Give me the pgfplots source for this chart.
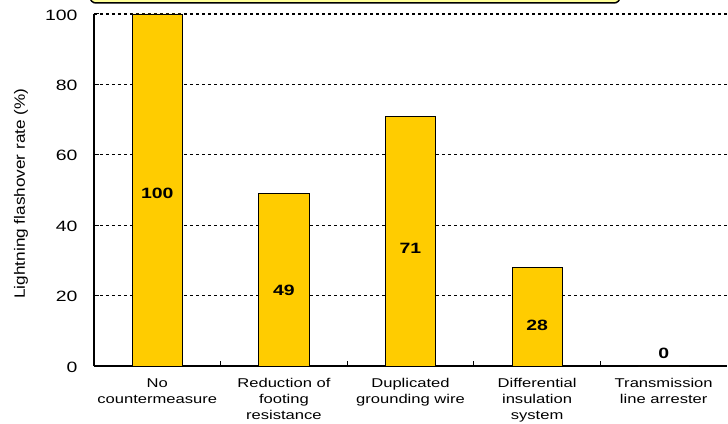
\documentclass[border=0pt]{standalone}
\usepackage{fontspec}
\setmainfont{Liberation Sans}
\newfontfamily\wide[FakeStretch=1.3]{Liberation Sans}
\usepackage{pgfplots}
\pgfplotsset{compat=1.18}
\definecolor{baryellow}{HTML}{FFCC00}
\definecolor{boxyellow}{HTML}{FFFF99}
\begin{document}
\begin{tikzpicture}
\begin{axis}[
  at={(0,0)}, anchor=south west,
  scale only axis, width=633bp, height=352bp,
  xmin=-0.5, xmax=4.5, ymin=0, ymax=100,
  axis x line*=bottom, axis y line*=left,
  axis line style={line width=1.3bp, black, -},
  /pgf/number format/assume math mode=true,
  ytick={0,20,40,60,80,100},
  yticklabel style={font=\wide\fontsize{15}{15}\selectfont, xshift=-13bp, yshift=-1bp},
  ymajorgrids,
  grid style={black, line width=1.3bp, dash pattern=on 3bp off 3bp},
  tick align=inside,
  major tick length=5bp,
  tick style={black, line width=1bp},
  xtick={0.5,1.5,2.5,3.5},
  xticklabels={},
  extra x ticks={0,1,2,3,4},
  extra x tick labels={No\\countermeasure, Reduction of\\footing\\resistance, Duplicated\\grounding wire, Differential\\insulation\\system, Transmission\\line arrester},
  extra x tick style={major tick length=0pt, grid=none,
    tick label style={align=center, font=\wide\fontsize{12.8}{16}\selectfont, yshift=-9bp}},
  ylabel={\scalebox{1.15}[1]{Lightning flashover rate (\%)}},
  ylabel style={at={(axis description cs:-0.1153,0.49)}, anchor=center, font=\fontsize{15}{15}\selectfont},
]
\addplot[ybar, bar shift=0pt, bar width=50bp, fill=baryellow, draw=black, line width=0.8bp]
  coordinates {(0,100) (1,49) (2,71) (3,28) (4,0)};
\addplot[draw=none, mark=none, nodes near coords, point meta=explicit symbolic,
  nodes near coords style={font=\wide\bfseries\fontsize{15}{15}\selectfont, anchor=center, inner sep=0pt}]
  coordinates {(0,49)[100] (1,21.6)[49] (2,33.5)[71] (3,11.6)[28] (4,3.7)[0]};
\end{axis}
\draw[fill=boxyellow, line width=1.5bp, rounded corners=6bp] (-4bp,363bp) rectangle (526bp,400bp);
\pgfresetboundingbox
\useasboundingbox (-94bp,-58bp) rectangle (634bp,366bp);
\end{tikzpicture}
\end{document}
